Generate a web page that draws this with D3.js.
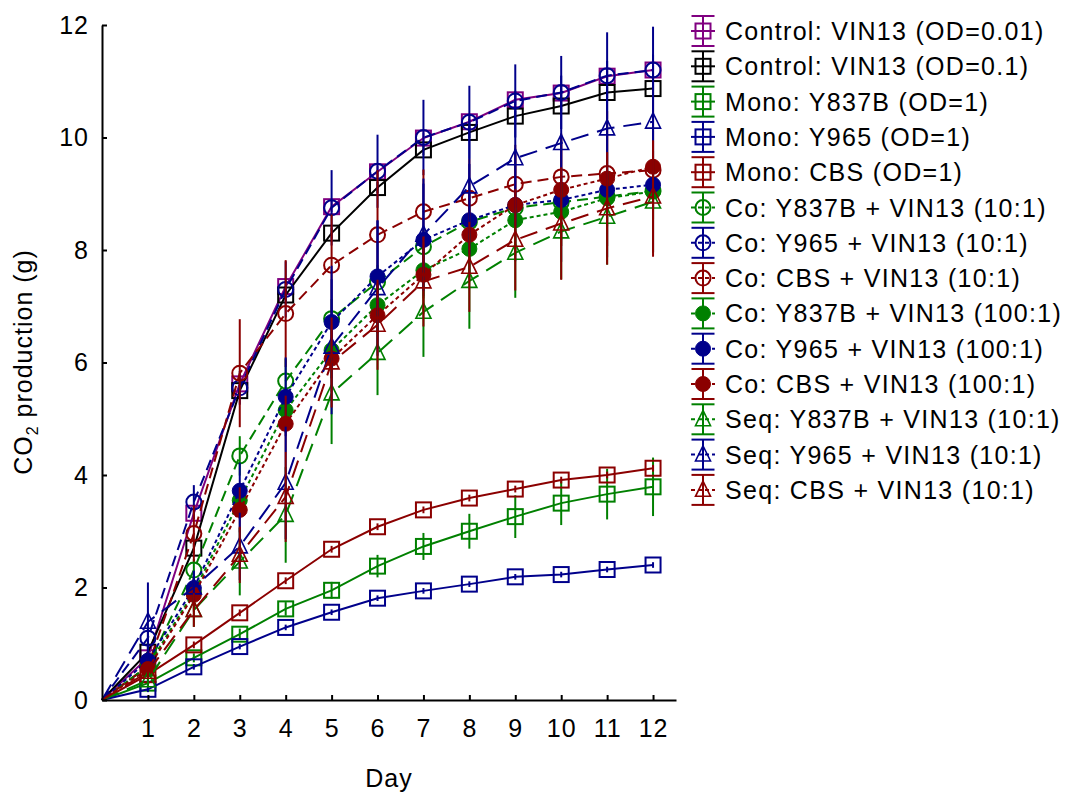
<!DOCTYPE html>
<html>
<head>
<meta charset="utf-8">
<script src="https://cdn.jsdelivr.net/npm/d3@7"></script>
<style>
  html, body { margin: 0; padding: 0; background: #fff; }
  svg text { font-family: "Liberation Sans", Arial, sans-serif; fill: #000; }
</style>
</head>
<body>
<svg id="chart" width="1065" height="794"></svg>
<script>
// ---------------- DATA ----------------
const days = [0, 1, 2, 3, 4, 5, 6, 7, 8, 9, 10, 11, 12];
const yTicks = [0, 2, 4, 6, 8, 10, 12];
const xTicks = [1, 2, 3, 4, 5, 6, 7, 8, 9, 10, 11, 12];

const seriesNames = [
  "Control: VIN13 (OD=0.01)",
  "Control: VIN13 (OD=0.1)",
  "Mono: Y837B (OD=1)",
  "Mono: Y965 (OD=1)",
  "Mono: CBS (OD=1)",
  "Co: Y837B + VIN13 (10:1)",
  "Co: Y965 + VIN13 (10:1)",
  "Co: CBS + VIN13 (10:1)",
  "Co: Y837B + VIN13 (100:1)",
  "Co: Y965 + VIN13 (100:1)",
  "Co: CBS + VIN13 (100:1)",
  "Seq: Y837B + VIN13 (10:1)",
  "Seq: Y965 + VIN13 (10:1)",
  "Seq: CBS + VIN13 (10:1)"
];

// mean CO2 production (g) per day
const ctrlOD001   = [0, 0.75, 3.32, 5.62, 7.35, 8.77, 9.39, 9.99, 10.28, 10.67, 10.79, 11.09, 11.2];
const ctrlOD01    = [0, 0.85, 2.70, 5.50, 7.20, 8.30, 9.11, 9.78, 10.09, 10.38, 10.56, 10.80, 10.87];
const monoY837B   = [0, 0.30, 0.75, 1.17, 1.62, 1.95, 2.38, 2.73, 3.00, 3.26, 3.50, 3.66, 3.79];
const monoY965    = [0, 0.19, 0.59, 0.95, 1.29, 1.56, 1.81, 1.94, 2.06, 2.19, 2.23, 2.32, 2.40];
const monoCBS     = [0, 0.45, 0.98, 1.55, 2.12, 2.68, 3.08, 3.38, 3.59, 3.75, 3.91, 4.00, 4.12];
const coY837B10   = [0, 0.60, 2.31, 4.34, 5.67, 6.78, 7.43, 8.06, 8.50, 8.75, 8.85, 8.95, 9.05];
const coY965_10   = [0, 1.10, 3.52, 5.55, 7.30, 8.75, 9.40, 10.00, 10.27, 10.65, 10.80, 11.10, 11.20];
const coCBS10     = [0, 0.60, 2.96, 5.81, 6.87, 7.73, 8.27, 8.68, 8.92, 9.17, 9.30, 9.36, 9.42];
const coY837B100  = [0, 0.60, 1.92, 3.55, 5.15, 6.22, 7.02, 7.64, 8.02, 8.53, 8.68, 8.92, 9.04];
const coY965_100  = [0, 0.70, 1.99, 3.72, 5.39, 6.72, 7.53, 8.18, 8.53, 8.80, 8.89, 9.07, 9.16];
const coCBS100    = [0, 0.55, 1.87, 3.38, 4.91, 6.07, 6.84, 7.56, 8.27, 8.80, 9.07, 9.27, 9.48];
const seqY837B    = [0, 0.35, 1.60, 2.46, 3.29, 5.45, 6.17, 6.90, 7.45, 7.95, 8.33, 8.59, 8.86];
const seqY965     = [0, 1.39, 2.00, 2.73, 3.86, 6.28, 7.32, 8.27, 9.13, 9.63, 9.90, 10.16, 10.28];
const seqCBS      = [0, 0.50, 1.60, 2.58, 3.61, 6.00, 6.67, 7.44, 7.70, 8.18, 8.47, 8.74, 8.95];

// error (± value) per day
const errCtrlOD001  = [0, 0.10, 0.10, 0.10, 0.10, 0.10, 0.10, 0.10, 0.10, 0.10, 0.10, 0.10, 0.10];
const errCtrlOD01   = [0, 0.10, 0.10, 0.10, 0.10, 0.10, 0.10, 0.10, 0.10, 0.10, 0.10, 0.10, 0.10];
const errMonoY837B  = [0, 0.05, 0.08, 0.10, 0.12, 0.15, 0.20, 0.24, 0.31, 0.38, 0.39, 0.45, 0.52];
const errMonoY965   = [0, 0.05, 0.05, 0.05, 0.05, 0.05, 0.05, 0.05, 0.05, 0.05, 0.05, 0.05, 0.05];
const errMonoCBS    = [0, 0.06, 0.06, 0.06, 0.06, 0.06, 0.06, 0.06, 0.06, 0.06, 0.06, 0.06, 0.06];
const errCoY837B10  = [0, 0.10, 0.20, 0.35, 0.40, 0.35, 0.30, 0.30, 0.30, 0.30, 0.30, 0.30, 0.30];
const errCoY965_10  = [0, 0.20, 0.30, 0.30, 0.50, 0.67, 0.65, 0.67, 0.65, 0.65, 0.65, 0.77, 0.77];
const errCoCBS10    = [0, 0.20, 0.50, 0.96, 0.95, 0.90, 1.15, 0.75, 0.70, 0.70, 0.70, 0.70, 0.70];
const errCoY837B100 = [0, 0.10, 0.20, 0.30, 0.40, 0.50, 0.50, 0.50, 0.50, 0.50, 0.50, 0.50, 0.50];
const errCoY965_100 = [0, 0.20, 0.30, 0.50, 0.70, 1.00, 1.00, 1.00, 1.00, 1.00, 1.10, 1.20, 1.20];
const errCoCBS100   = [0, 0.20, 0.30, 0.40, 0.50, 0.60, 0.60, 0.70, 0.80, 0.90, 1.00, 1.20, 1.60];
const errSeqY837B   = [0, 0.10, 0.30, 0.60, 0.85, 0.90, 0.75, 0.80, 0.85, 0.80, 0.85, 0.85, 0.90];
const errSeqY965    = [0, 0.70, 0.30, 0.60, 1.00, 1.20, 1.20, 1.00, 1.20, 1.20, 1.20, 1.20, 1.20];
const errSeqCBS     = [0, 0.10, 0.30, 0.50, 0.80, 0.80, 0.80, 0.80, 0.80, 0.90, 1.00, 1.00, 1.00];

// ---------------- STYLES ----------------
const C = { purple: "#800080", black: "#000000", green: "#008000", blue: "#00008b", red: "#8b0000" };
const DASH = { solid: null, co10: "11,6", co100: "4,3", seq: "18,9" };

const seriesMeans = [ctrlOD001, ctrlOD01, monoY837B, monoY965, monoCBS, coY837B10, coY965_10, coCBS10,
  coY837B100, coY965_100, coCBS100, seqY837B, seqY965, seqCBS];
const seriesErrs = [errCtrlOD001, errCtrlOD01, errMonoY837B, errMonoY965, errMonoCBS, errCoY837B10,
  errCoY965_10, errCoCBS10, errCoY837B100, errCoY965_100, errCoCBS100, errSeqY837B, errSeqY965, errSeqCBS];
const seriesStyle = [
  { color: C.purple, marker: "square", dash: DASH.solid },
  { color: C.black, marker: "square", dash: DASH.solid },
  { color: C.green, marker: "square", dash: DASH.solid },
  { color: C.blue, marker: "square", dash: DASH.solid },
  { color: C.red, marker: "square", dash: DASH.solid },
  { color: C.green, marker: "circle", dash: DASH.co10 },
  { color: C.blue, marker: "circle", dash: DASH.co10 },
  { color: C.red, marker: "circle", dash: DASH.co10 },
  { color: C.green, marker: "dot", dash: DASH.co100 },
  { color: C.blue, marker: "dot", dash: DASH.co100 },
  { color: C.red, marker: "dot", dash: DASH.co100 },
  { color: C.green, marker: "triangle", dash: DASH.seq },
  { color: C.blue, marker: "triangle", dash: DASH.seq },
  { color: C.red, marker: "triangle", dash: DASH.seq }
];

const series = seriesNames.map((name, i) => ({
  name,
  ...seriesStyle[i],
  points: days.map((d, j) => ({ day: d, v: seriesMeans[i][j], e: seriesErrs[i][j] }))
}));

// ---------------- CHART ----------------
const svg = d3.select("#chart");
const FONT = 25;
const x = d3.scaleLinear().domain([0, 12.5]).range([102, 676]);
const y = d3.scaleLinear().domain([0, 12]).range([700, 25]);

function drawMarker(g, type, color, size) {
  const s = size;
  if (type === "square") {
    g.append("rect").attr("x", -s / 2).attr("y", -s / 2).attr("width", s).attr("height", s)
      .attr("fill", "none").attr("stroke", color).attr("stroke-width", 2);
  } else if (type === "circle") {
    g.append("circle").attr("r", s / 2).attr("fill", "none").attr("stroke", color).attr("stroke-width", 2);
  } else if (type === "dot") {
    g.append("circle").attr("r", s / 2).attr("fill", color).attr("stroke", color).attr("stroke-width", 1);
  } else if (type === "triangle") {
    const h = s * 0.95;
    g.append("path").attr("d", `M0,${-h * 0.62}L${s / 2},${h * 0.45}L${-s / 2},${h * 0.45}Z`)
      .attr("fill", "none").attr("stroke", color).attr("stroke-width", 1.6);
  }
}

const plot = svg.append("g");
const line = d3.line().x(p => x(p.day)).y(p => y(p.v));

series.forEach(s => {
  const g = plot.append("g");
  g.append("path").datum(s.points).attr("d", line)
    .attr("fill", "none").attr("stroke", s.color).attr("stroke-width", 2)
    .attr("stroke-dasharray", s.dash);
  const pts = s.points.filter(p => p.day > 0);
  g.selectAll("line.err").data(pts).join("line").attr("class", "err")
    .attr("x1", p => x(p.day)).attr("x2", p => x(p.day))
    .attr("y1", p => y(p.v + p.e)).attr("y2", p => y(p.v - p.e))
    .attr("stroke", s.color).attr("stroke-width", 2);
  g.selectAll("g.mk").data(pts).join("g").attr("class", "mk")
    .attr("transform", p => `translate(${x(p.day)},${y(p.v)})`)
    .each(function () { drawMarker(d3.select(this), s.marker, s.color, 15); });
});

// axes
const yAxis = svg.append("g").attr("transform", `translate(${x(0)},0)`)
  .call(d3.axisLeft(y).tickValues(yTicks).tickSize(-5).tickSizeOuter(0).tickPadding(13));
const xAxis = svg.append("g").attr("transform", `translate(0,${y(0)})`)
  .call(d3.axisBottom(x).tickValues(xTicks).tickSize(-5).tickSizeOuter(0).tickPadding(19));
[yAxis, xAxis].forEach(a => {
  a.select(".domain").attr("stroke", "#000").attr("stroke-width", 2);
  a.selectAll(".tick line").attr("stroke", "#000").attr("stroke-width", 2);
  a.selectAll(".tick text").style("font-size", FONT + "px").style("letter-spacing", "1px")
    .style("font-family", '"Liberation Sans", Arial, sans-serif').attr("fill", "#000");
});

// axis titles
svg.append("text").attr("x", 389).attr("y", 787).attr("text-anchor", "middle")
  .style("font-size", FONT + "px").style("letter-spacing", "1px").text("Day");
const yt = svg.append("text").attr("transform", "translate(32,362) rotate(-90)")
  .attr("text-anchor", "middle").style("font-size", FONT + "px").style("letter-spacing", "1px");
yt.append("tspan").text("CO");
yt.append("tspan").attr("dy", 6).style("font-size", "16px").text("2");
yt.append("tspan").attr("dy", -6).text(" production (g)");

// legend
const legend = svg.append("g");
series.forEach((s, i) => {
  const cy = 31 + i * 35.3;
  const g = legend.append("g").attr("transform", `translate(703,${cy})`);
  g.append("line").attr("x1", -12).attr("x2", 12).attr("y1", 0).attr("y2", 0)
    .attr("stroke", s.color).attr("stroke-width", 2).attr("stroke-dasharray", s.dash ? "4,3" : null);
  g.append("line").attr("x1", 0).attr("x2", 0).attr("y1", -15).attr("y2", 15)
    .attr("stroke", s.color).attr("stroke-width", 2);
  g.append("line").attr("x1", -11.5).attr("x2", 11.5).attr("y1", -15).attr("y2", -15)
    .attr("stroke", s.color).attr("stroke-width", 2);
  g.append("line").attr("x1", -11.5).attr("x2", 11.5).attr("y1", 15).attr("y2", 15)
    .attr("stroke", s.color).attr("stroke-width", 2);
  const mk = g.append("g");
  drawMarker(mk, s.marker, s.color, 15);
  legend.append("text").attr("x", 725).attr("y", cy + 9)
    .style("font-size", FONT + "px").style("letter-spacing", "1.3px").text(s.name);
});
</script>
</body>
</html>
